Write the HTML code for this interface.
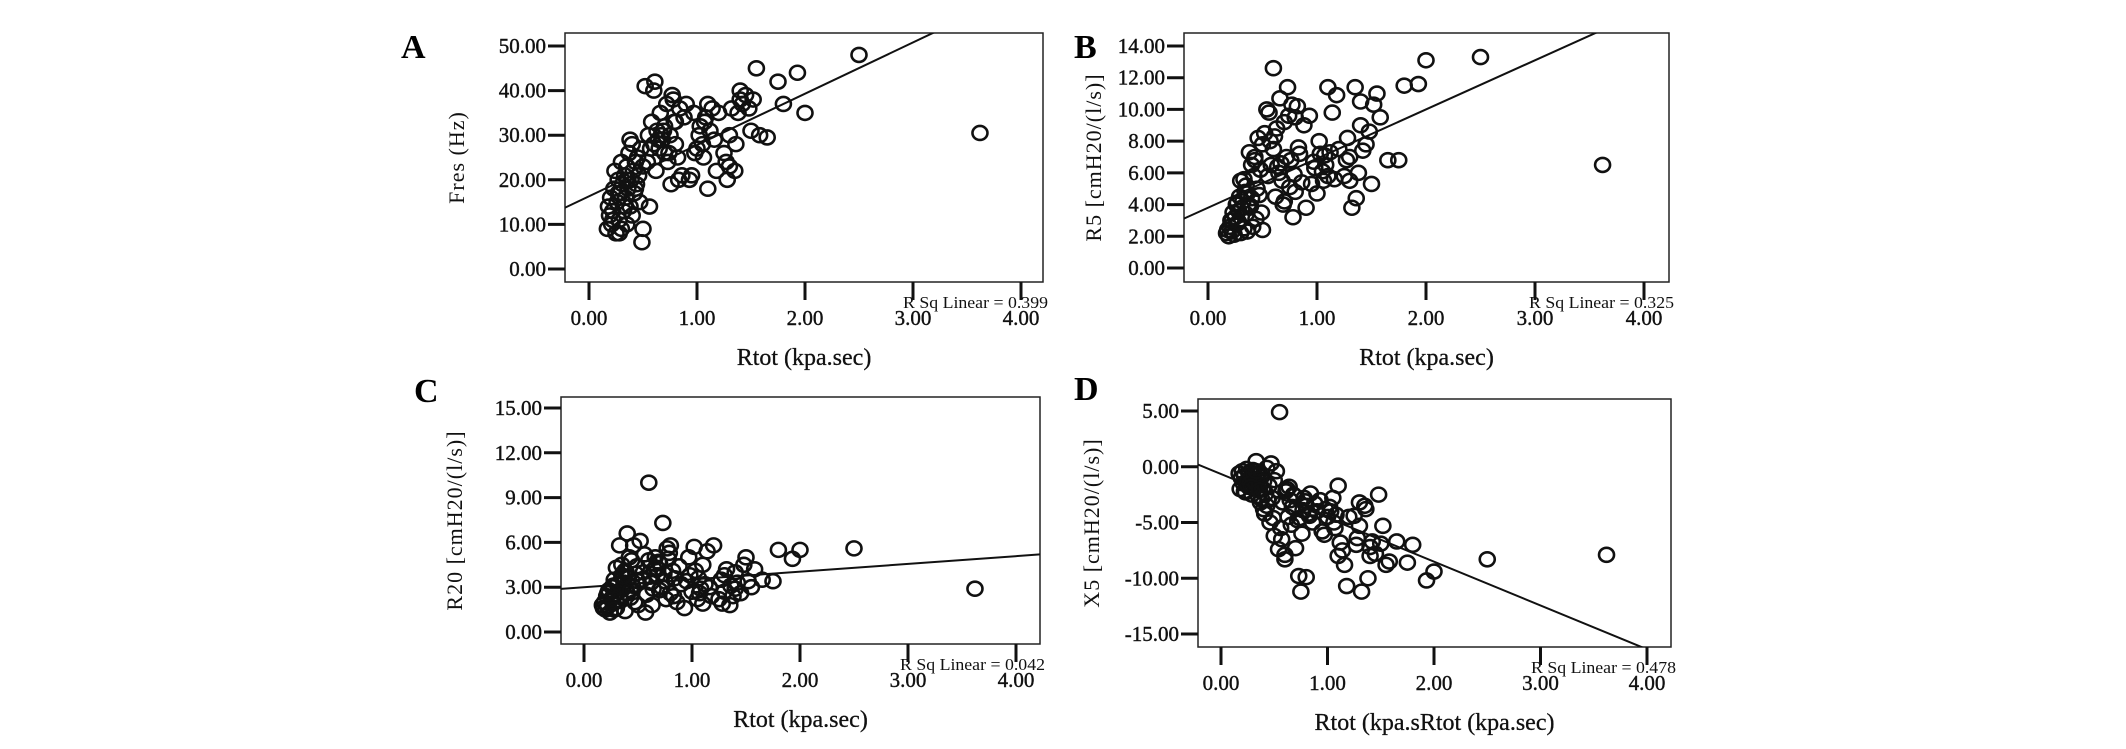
<!DOCTYPE html>
<html><head><meta charset="utf-8"><style>
html,body{margin:0;padding:0;background:#fff;}
svg{display:block;font-family:"Liberation Serif",serif;}
</style></head><body>
<svg id="fig" width="2126" height="749" viewBox="0 0 2126 749" xmlns="http://www.w3.org/2000/svg"></svg>
<script>
// Shared x data: Rtot (kpa.sec)
const rtot = [0.17,0.18,0.19,0.2,0.21,0.22,0.23,0.24,0.25,0.26,0.27,0.28,0.29,0.3,0.3,0.31,0.32,0.33,0.34,0.35,0.35,0.36,0.37,0.38,0.39,0.4,0.4,0.41,0.42,0.43,0.44,0.45,0.46,0.47,0.48,0.49,0.5,0.5,0.22,0.27,0.33,0.38,0.43,0.28,0.36,
0.52,0.54,0.55,0.56,0.58,0.6,0.6,0.62,0.63,0.65,0.66,0.68,0.7,0.7,0.72,0.73,0.75,0.76,0.78,0.8,0.8,0.82,0.84,0.86,0.88,0.9,0.57,0.64,0.69,0.74,0.79,0.83,0.61,0.67,0.77,
0.93,0.95,0.97,1.0,1.02,1.03,1.05,1.06,1.08,1.1,1.1,1.12,1.14,1.16,1.18,1.2,0.98,1.07,
1.25,1.27,1.28,1.3,1.3,1.32,1.35,1.36,1.38,1.4,1.4,1.42,1.45,1.48,1.5,1.52,1.55,1.58,
1.65,1.75,1.8,1.93,2.0,2.5,3.62];
const fres = [9,14,12,16,10,13,18,22,8,15,20,11,17,24,9,19,13,21,16,23,10,18,26,14,20,28,12,22,17,24,19,25,21,15,27,6,23,9,11,17,14,29,18,8,20,
41,24,30,14,33,40,28,22,31,27,35,29,32,26,37,24,30,19,38,28,33,25,36,21,34,37,27,29,31,26,33,20,42,30,39,
20,21,35,27,30,32,28,25,34,37,18,31,36,29,22,35,26,33,
26,24,20,30,23,36,22,28,35,40,38,37,39,36,31,38,45,30,
29.5,42,37,44,35,48,30.5];
const r5 = [2.2,2.4,2.0,2.6,3.0,2.3,3.5,2.1,3.2,4.0,2.8,3.6,4.5,2.2,5.5,3.8,4.2,2.5,4.8,3.4,5.2,2.3,4.0,7.3,3.9,6.5,4.4,2.6,5.8,7.0,3.1,5.0,8.2,4.6,6.2,3.5,7.8,2.4,3.0,4.1,5.6,3.8,6.8,2.9,4.7,
8.5,10,5.8,9.8,6.5,12.6,7.5,4.5,8.8,6.0,10.7,5.5,9.2,4.2,7.0,11.4,5.1,6.8,3.2,9.5,4.8,10.2,7.2,5.4,9.0,3.8,8.0,6.4,4.0,9.6,5.9,7.6,8.3,6.6,10.3,
9.6,5.3,6.7,4.7,8.0,7.2,6.1,5.5,6.5,11.4,5.8,7.3,9.8,5.6,10.9,7.5,6.3,7.1,
5.8,6.8,8.2,5.5,7.0,3.8,11.4,4.4,6.0,10.5,9.0,7.4,7.8,8.6,5.3,10.3,11.0,9.5,
6.8,6.8,11.5,11.6,13.1,13.3,6.5];
const r20 = [1.8,1.6,2.0,1.5,2.4,1.7,2.8,1.3,2.2,3.0,1.9,3.5,2.5,4.3,1.6,3.2,2.7,5.8,2.1,3.8,4.5,2.9,3.3,1.4,4.0,2.6,6.6,3.6,5.0,2.3,4.8,3.1,5.8,2.0,3.9,4.4,1.8,3.4,2.6,3.1,2.4,4.1,2.8,1.5,3.7,
6.1,3.5,4.0,5.2,2.5,10.0,4.8,3.3,1.8,4.2,5.0,3.8,2.8,4.6,3.0,7.3,3.4,2.2,4.9,5.8,2.6,4.1,3.6,2.0,4.4,3.2,1.3,2.9,4.7,3.9,5.3,2.4,3.7,4.3,5.6,
1.6,3.4,5.0,2.7,5.7,4.1,2.2,3.6,2.9,4.5,1.9,3.2,5.4,3.0,2.4,5.8,3.8,2.6,
2.2,3.5,1.9,2.7,3.8,4.2,1.8,3.1,2.4,4.0,2.9,3.3,2.6,4.5,5.0,3.4,3.0,4.2,
3.5,3.4,5.5,4.9,5.5,5.6,2.9];
const x5 = [-0.6,-2.0,-1.0,-0.4,-1.5,-0.8,-2.3,-0.2,-1.2,-1.8,-0.5,-1.0,-2.5,-0.3,-1.4,-0.7,-1.9,0.5,-1.1,-2.6,-0.6,-1.6,-3.2,-0.9,-2.0,-3.8,-1.3,-4.2,-2.4,-0.1,-3.0,-1.7,-5.0,0.3,-2.8,-4.6,-6.2,-1.2,-2.2,-1.5,-0.4,-2.9,-3.5,-1.8,-2.1,
-0.4,-7.4,4.9,-5.5,-3.2,-7.9,-8.3,-2.0,-4.5,-3.0,-5.2,-2.5,-7.3,-3.8,-4.8,-9.8,-11.2,-6.0,-2.8,-3.5,-9.9,-4.2,-2.4,-5.0,-3.3,-4.0,-6.5,-1.8,-2.6,-4.6,-3.1,-4.4,-2.2,-3.6,-3.9,
-3.0,-5.8,-6.1,-4.5,-3.6,-4.0,-2.8,-5.0,-4.3,-1.7,-8.0,-6.8,-7.5,-8.8,-10.7,-4.5,-3.8,-5.5,
-4.4,-7.0,-6.4,-5.3,-3.2,-11.2,-3.5,-3.8,-10.0,-8.0,-7.2,-6.7,-7.8,-2.5,-6.9,-5.3,-8.8,-8.5,
-6.7,-8.6,-7.0,-10.2,-9.4,-8.3,-7.9];
// Fit lines (intercept, slope)
const fitA = [16.3, 11.5];
const fitB = [3.8, 3.1];
const fitC = [3.0, 0.52];
const fitD = [-0.65, -3.93];
const xTicks = [0,1,2,3,4];
const yTicksA = [0,10,20,30,40,50];
const yTicksB = [0,2,4,6,8,10,12,14];
const yTicksC = [0,3,6,9,12,15];
const yTicksD = [-15,-10,-5,0,5];
const rsq = ["0.399","0.325","0.042","0.478"];

const NS="http://www.w3.org/2000/svg";
const svg=document.getElementById('fig');
function mk(tag,attrs,parent){const e=document.createElementNS(NS,tag);for(const k in attrs)e.setAttribute(k,attrs[k]);(parent||svg).appendChild(e);return e;}

const panels=[
 {id:'a',letter:'A',lx:401,ly:58,box:[565,33,1043,282],x0:589,x4:1021,yv:[0,50],yp:[269,46],ys:yTicksA,y:fres,fit:fitA,rs:rsq[0],ytitle:'Fres  (Hz)',ytx:464,xtitle:'Rtot (kpa.sec)'},
 {id:'b',letter:'B',lx:1074,ly:58,box:[1184,33,1669,282],x0:1208,x4:1644,yv:[0,14],yp:[268,46],ys:yTicksB,y:r5,fit:fitB,rs:rsq[1],ytitle:'R5  [cmH20/(l/s)]',ytx:1101,xtitle:'Rtot (kpa.sec)'},
 {id:'c',letter:'C',lx:414,ly:402,box:[561,397,1040,644],x0:584,x4:1016,yv:[0,15],yp:[632,408],ys:yTicksC,y:r20,fit:fitC,rs:rsq[2],ytitle:'R20  [cmH20/(l/s)]',ytx:462,xtitle:'Rtot (kpa.sec)'},
 {id:'d',letter:'D',lx:1074,ly:400,box:[1198,399,1671,647],x0:1221,x4:1647,yv:[-15,5],yp:[634,411],ys:yTicksD,y:x5,fit:fitD,rs:rsq[3],ytitle:'X5  [cmH20/(l/s)]',ytx:1099,xtitle:'Rtot (kpa.sRtot (kpa.sec)'}
];

panels.forEach(p=>{
 const [L,T,R,B]=p.box;
 const g=mk('g',{});
 
 
 const xs=v=>p.x0+(p.x4-p.x0)*v/4;
 const ysc=v=>p.yp[0]+(v-p.yv[0])*(p.yp[1]-p.yp[0])/(p.yv[1]-p.yv[0]);
 const lt=mk('text',{x:p.lx,y:p.ly,'font-size':34,'font-weight':'bold'},g);lt.textContent=p.letter;
 
 
 const box=mk('rect',{x:L,y:T,width:R-L,height:B-T,fill:'#fff',stroke:'#222','stroke-width':1.5},g);
 
 
 const cp=mk('clipPath',{id:'clip'+p.id},g);mk('rect',{x:L,y:T,width:R-L,height:B-T},cp);
 p.ys.forEach(v=>{
  const y=ysc(v);
  const tk=mk('line',{x1:L-17,x2:L,y1:y,y2:y,stroke:'#111','stroke-width':3},g);
  
  
  const t=mk('text',{x:L-19,y:y+7,'font-size':21,'text-anchor':'end',fill:'#111',stroke:'#111','stroke-width':0.4},g);t.textContent=v.toFixed(2);
  
  
 });
 xTicks.forEach(v=>{
  const x=xs(v);
  const tk=mk('line',{x1:x,x2:x,y1:B,y2:B+18,stroke:'#111','stroke-width':3},g);
  
  
  const t=mk('text',{x:x,y:B+43,'font-size':21,'text-anchor':'middle',fill:'#111',stroke:'#111','stroke-width':0.4},g);t.textContent=v.toFixed(2);
  
  
 });
 const xa=-0.3,xb=4.3;
 const fl=mk('line',{x1:xs(xa),y1:ysc(p.fit[0]+p.fit[1]*xa),x2:xs(xb),y2:ysc(p.fit[0]+p.fit[1]*xb),stroke:'#111','stroke-width':2,'clip-path':'url(#clip'+p.id+')'},g);
 
 
 rtot.forEach((xv,i)=>{
  const c=mk('ellipse',{cx:xs(xv),cy:ysc(p.y[i]),rx:7.5,ry:7,fill:'none',stroke:'#111','stroke-width':2.6},g);
  
  
 });
 const rt=mk('text',{x:R+5,y:B+26,'font-size':17,'text-anchor':'end',fill:'#111',textLength:145,lengthAdjust:'spacingAndGlyphs'},g);rt.textContent='R Sq Linear = '+p.rs;
 
 
 const xt=mk('text',{x:(L+R)/2,y:B+83,'font-size':24,'text-anchor':'middle',fill:'#111',stroke:'#111','stroke-width':0.3},g);xt.textContent=p.xtitle;
 
 
 const cy=(T+B)/2;
 const yt=mk('text',{x:p.ytx,y:cy,'font-size':22,'text-anchor':'middle',fill:'#111','letter-spacing':1,transform:'rotate(-90 '+p.ytx+' '+cy+')'},g);yt.textContent=p.ytitle;
 
 
});
</script>
</body></html>
